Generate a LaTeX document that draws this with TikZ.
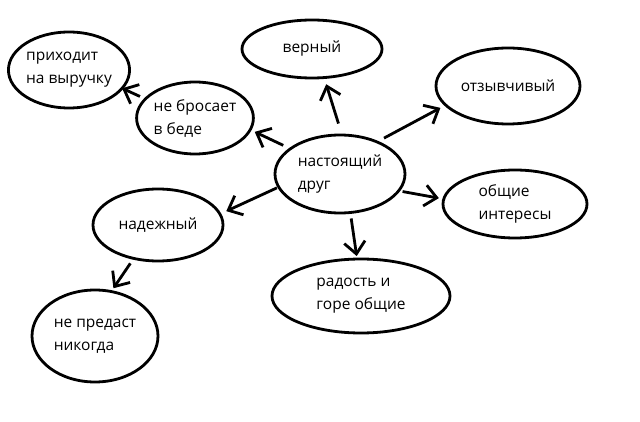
\documentclass[tikz,border=0pt]{standalone}
\usepackage{fontspec}
\setmainfont{Open Sans}
\usetikzlibrary{arrows.meta, shapes.geometric}

\begin{document}
\begin{tikzpicture}[x=1pt, y=-1pt,
  bubble/.style={draw, ellipse, line width=2.8pt, inner sep=0pt, outer sep=0pt,
                 align=left, font=\fontsize{15.5}{23}\selectfont},
  arr/.style={-{Straight Barb[length=12pt, width=21pt]}, line width=2.8pt}
]
  \useasboundingbox (0,0) rectangle (640,422);

  % Centre
  \node[bubble, minimum width=130pt, minimum height=78pt] (friend) at (340,174) {настоящий\\друг};

  % Qualities
  \node[bubble, minimum width=140pt, minimum height=58pt] (loyal) at (312,49) {верный};
  \node[bubble, minimum width=144pt, minimum height=76pt] (responsive) at (508,86) {отзывчивый};
  \node[bubble, minimum width=144pt, minimum height=68pt] (interests) at (515,204) {общие\\интересы};
  \node[bubble, minimum width=178pt, minimum height=74pt] (joy) at (361,296) {радость и\\горе общие};
  \node[bubble, minimum width=130pt, minimum height=72pt] (reliable) at (158,225) {надежный};
  \node[bubble, minimum width=126pt, minimum height=92pt] (never) at (95,336) {не предаст\\никогда};
  \node[bubble, minimum width=116pt, minimum height=72pt] (nodrop) at (195,118) {не бросает\\в беде};
  \node[bubble, minimum width=120pt, minimum height=76pt] (rescue) at (69,70) {приходит\\на выручку};

  % Arrows from the centre
  \draw[arr, shorten <=12pt, shorten >=7pt] (friend.87) -- (loyal.-67);
  \draw[arr, shorten <=8pt, shorten >=6pt] (friend.41) -- (responsive.197);
  \draw[arr, shorten <=4pt, shorten >=5pt] (friend.-16) -- (interests.176);
  \draw[arr, shorten <=6pt, shorten >=3pt] (friend.-75) -- (joy.96);
  \draw[arr, shorten <=2pt, shorten >=7pt] (friend.192) -- (reliable.10);
  \draw[arr, shorten <=8pt, shorten >=5pt] (friend.153) -- (nodrop.-12);

  % Second level
  \draw[arr, shorten <=6pt] (nodrop.159) -- (rescue.-19);
  \draw[arr, shorten <=6pt, shorten >=4pt] (reliable.234) -- (never.70);
\end{tikzpicture}
\end{document}
